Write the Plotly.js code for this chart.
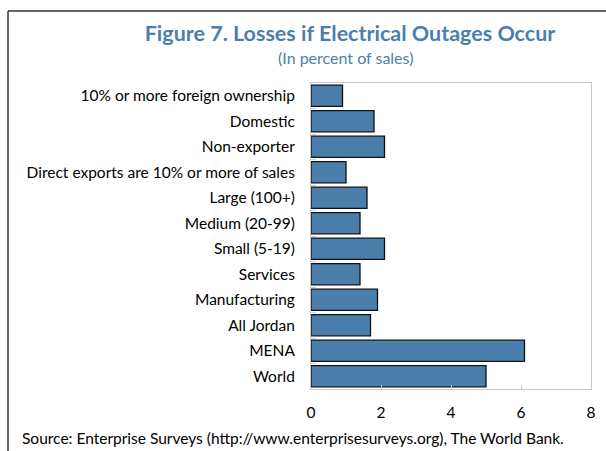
<!DOCTYPE html>
<html><head><meta charset="utf-8">
<script src="https://cdn.plot.ly/plotly-3.0.1.min.js"></script>
<style>html,body{margin:0;padding:0;background:#fff}#chart{width:606px;height:451px}</style>
</head><body><div id="chart"></div>
<script>
const categories = ["10% or more foreign ownership","Domestic","Non-exporter","Direct exports are 10% or more of sales","Large (100+)","Medium (20-99)","Small (5-19)","Services","Manufacturing","All Jordan","MENA","World"];
const losses = [0.9,1.8,2.1,1.0,1.6,1.4,2.1,1.4,1.9,1.7,6.1,5.0];
const xTicks = [0,2,4,6,8];
const titleText = "Figure 7. Losses if Electrical Outages Occur";
const subtitleText = "(In percent of sales)";
const sourceText = "Source: Enterprise Surveys (http://www.enterprisesurveys.org), The World Bank.";

const FONT = "Lato, 'Open Sans', sans-serif";
const W = 606, H = 451, L = 311, R = 15, T = 83, B = 62;
const pw = W - L - R, ph = H - T - B;
const px = x => (x - L) / pw;
const py = y => (H - B - y) / ph;

Plotly.newPlot('chart', [{
  type: 'bar', orientation: 'h', y: categories, x: losses,
  marker: {color: '#4a7fac', line: {color: '#111', width: 1.3}},
  hoverinfo: 'none'
}], {
  width: W, height: H,
  margin: {l: L, r: R, t: T, b: B, pad: 0},
  paper_bgcolor: '#fff', plot_bgcolor: '#fff',
  bargap: 0.17, showlegend: false,
  font: {family: FONT, color: '#000', size: 15.5},
  title: {text: '<b>' + titleText + '</b>', font: {family: FONT, size: 21.5, color: '#4a7fac'},
          xref: 'container', yref: 'container', x: 350 / W, y: 1 - 33 / H, xanchor: 'center', yanchor: 'middle'},
  xaxis: {range: [0, 8], tickvals: xTicks, ticktext: xTicks.map(String), showgrid: false, zeroline: false,
          showline: true, linecolor: '#c8c8c8', linewidth: 1, mirror: true,
          ticks: 'inside', ticklen: 4, tickcolor: '#c8c8c8', ticklabelstandoff: 9,
          tickfont: {size: 15.5, family: FONT}},
  yaxis: {type: 'category', autorange: 'reversed', showgrid: false, zeroline: false,
          showline: true, linecolor: '#c8c8c8', linewidth: 1, mirror: true,
          ticks: 'inside', tickson: 'boundaries', ticklen: 5, tickcolor: '#d0d0d0', ticklabelstandoff: 12,
          tickfont: {size: 15.5, family: FONT}},
  annotations: [
    {text: subtitleText, xref: 'paper', yref: 'paper', x: px(345), y: py(57), xanchor: 'center', yanchor: 'middle',
     showarrow: false, font: {family: FONT, size: 16, color: '#4a7fac'}},
    {text: sourceText, xref: 'paper', yref: 'paper', x: px(20), y: py(438), xanchor: 'left', yanchor: 'middle',
     showarrow: false, font: {family: FONT, size: 15.5, color: '#000'}}
  ],
  shapes: [
    {type: 'line', xref: 'paper', yref: 'paper', x0: px(8), x1: px(8), y0: py(451), y1: py(11), line: {color: '#333', width: 1.5}},
    {type: 'line', xref: 'paper', yref: 'paper', x0: px(8), x1: px(606), y0: py(11), y1: py(11), line: {color: '#333', width: 1.5}}
  ]
}, {displayModeBar: false, staticPlot: true});
</script></body></html>
